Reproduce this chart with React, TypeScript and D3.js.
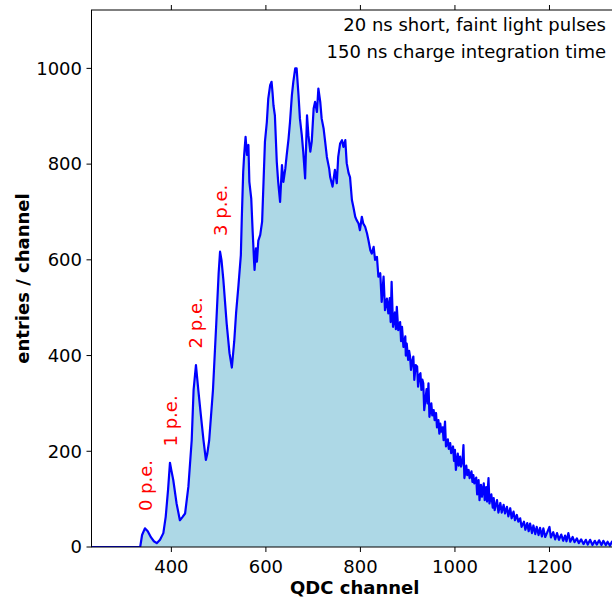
import * as d3 from 'd3';

// QDC spectrum (channel, entries); the tail follows the noise band edges
const qdcChannel = [
  231, 334, 338, 344, 350, 357, 363, 369, 376, 383, 388, 393, 397, 400, 404, 411, 418, 423, 429, 436,
  443, 447, 452, 457, 462, 468, 473, 476, 480, 488, 495, 500, 503, 506, 510, 517, 523, 528, 533, 537,
  542, 547, 549, 552, 554, 557, 560, 563, 565, 569, 572, 575, 576, 579, 581, 584, 588, 592, 595, 598,
  602, 605, 609, 612, 614, 616, 619, 623, 626, 630, 634, 637, 641, 644, 648, 651, 655, 658, 662, 665,
  669, 672, 676, 679, 683, 687, 690, 694, 697, 701, 704, 708, 711, 715, 718, 722, 725, 729, 734, 736,
  741, 746, 750, 753, 757, 761, 764, 768, 771, 775, 778, 782, 785, 789, 792, 796, 799, 803, 806, 810,
  814, 817, 821, 824, 828, 831,
  835, 838, 842, 845, 849, 852, 856, 859, 862, 864, 866, 869, 873, 875, 877, 880, 884, 886, 888, 891,
  895, 896, 898, 901, 903, 905, 907, 910, 912, 914, 917, 920, 922, 925, 927, 929, 931, 933, 935, 940,
  942, 944, 946, 950, 952, 955, 957, 960, 962, 965, 967, 969, 971, 974, 976, 979, 981, 985, 987, 990,
  992, 996, 998, 1000, 1002, 1006, 1008, 1011, 1013, 1016, 1018, 1020, 1024, 1026, 1029, 1031, 1035, 1037, 1039, 1041,
  1045, 1047, 1050, 1052, 1055, 1057, 1061, 1063, 1066, 1068, 1071, 1073, 1077, 1080, 1082, 1084, 1089, 1092, 1096, 1099,
  1103, 1106, 1110, 1113, 1117, 1120, 1124, 1127, 1131, 1134, 1138, 1141, 1146, 1149, 1153, 1156, 1159, 1163, 1166, 1170,
  1173, 1177, 1180, 1184, 1187, 1191, 1195, 1200, 1203, 1208, 1212, 1216, 1220, 1225, 1229, 1233, 1236, 1240, 1244, 1249,
  1253, 1258, 1262, 1267, 1272, 1277, 1281, 1286, 1291, 1296, 1300, 1305, 1310, 1314, 1319, 1323, 1328, 1332, 1337, 1345,
];
const entries = [
  0, 0, 25, 39, 33, 20, 12, 8, 15, 29, 63, 120, 176, 160, 140, 91, 56, 62, 70, 126,
  223, 328, 380, 328, 279, 223, 182, 195, 223, 328, 467, 572, 617, 600, 558, 467, 405, 375, 430, 490,
  547, 610, 687, 784, 819, 857, 819, 840, 763, 728, 659, 596, 579, 624, 596, 640, 652, 680, 763, 847,
  888, 937, 965, 972, 950, 923, 902, 805, 763, 721, 798, 763, 790, 819, 854, 888, 944, 972, 1000, 1000,
  944, 895, 860, 826, 770, 902, 860, 826, 847, 916, 930, 909, 958, 930, 895, 875, 850, 815, 790, 773,
  753, 788, 760, 815, 843, 850, 836, 850, 802, 781, 773, 725, 711, 690, 683, 676, 662, 690, 676, 669,
  655, 641, 620, 613, 627, 600,
  606, 565, 572, 512, 565, 495, 519, 488, 520, 470, 554, 460, 490, 455, 502, 453, 470, 430, 460, 418,
  440, 400, 425, 391, 410, 398, 370, 390, 398, 349, 380, 377, 335, 360, 363, 328, 350, 342, 286, 330,
  300, 342, 272, 300, 275, 286, 265, 280, 250, 265, 237, 258, 241, 250, 223, 262, 210, 225, 205, 217,
  196, 210, 180, 203, 161, 195, 170, 189, 168, 180, 213, 144, 170, 150, 161, 144, 158, 136, 150, 133,
  145, 110, 140, 98, 130, 105, 133, 98, 125, 95, 144, 91, 110, 82, 102, 77, 98, 72, 92, 72,
  88, 70, 84, 64, 81, 60, 74, 56, 67, 53, 60, 42, 53, 36, 50, 33, 49, 29, 45, 27,
  42, 25, 40, 22, 39, 21, 30, 42, 20, 31, 16, 29, 15, 26, 13, 24, 12, 29, 11, 21,
  10, 18, 8, 16, 6, 15, 5, 15, 4, 13, 5, 14, 4, 13, 4, 11, 3, 11, 4, 8,
];

const xTicks = [400, 600, 800, 1000, 1200];
const yTicks = [0, 200, 400, 600, 800, 1000];

const peakLabels = [
  { text: '0 p.e.', channel: 345, count: 75 },
  { text: '1 p.e.', channel: 398, count: 210 },
  { text: '2 p.e.', channel: 451, count: 415 },
  { text: '3 p.e.', channel: 504, count: 650 },
];

const infoLines = ['20 ns short, faint light pulses', '150 ns charge integration time'];

const W = 612;
const H = 597;
const margin = { top: 10, right: -6, bottom: 50, left: 91.5 };
const font = 'DejaVu Sans, sans-serif';

export default function App() {
  const x = d3.scaleLinear().domain([231, 1345]).range([margin.left, W - margin.right]);
  const y = d3.scaleLinear().domain([0, 1122]).range([H - margin.bottom, margin.top]);

  const pts = qdcChannel.map((c, i) => [c, entries[i]] as [number, number]);
  const area = d3.area<[number, number]>()
    .x(d => x(d[0]))
    .y0(y(0))
    .y1(d => y(d[1]));
  const line = d3.line<[number, number]>()
    .x(d => x(d[0]))
    .y(d => y(d[1]));

  const x0 = margin.left;
  const x1 = W - margin.right;
  const y0 = H - margin.bottom;
  const y1 = margin.top;

  return (
    <svg width={W} height={H} style={{ position: 'absolute', left: 0, top: 0 }} fontFamily={font}>
      <rect width={W} height={H} fill="white" />
      <defs>
        <clipPath id="plot">
          <rect x={x0} y={y1} width={x1 - x0} height={y0 - y1} />
        </clipPath>
      </defs>
      <g clipPath="url(#plot)">
        <path d={area(pts) ?? ''} fill="#add8e6" />
        <path d={line(pts) ?? ''} fill="none" stroke="#0000ff" strokeWidth={2.2} strokeLinejoin="round" />
      </g>

      {/* frame */}
      <rect x={x0} y={y1} width={x1 - x0} height={y0 - y1} fill="none" stroke="black" strokeWidth={1} />

      {/* x axis */}
      {xTicks.map(t => (
        <g key={t}>
          <line x1={x(t)} x2={x(t)} y1={y0} y2={y0 + 5} stroke="black" />
          <line x1={x(t)} x2={x(t)} y1={y1} y2={y1 - 5} stroke="black" />
          <text x={x(t)} y={y0 + 25.5} fontSize={18} textAnchor="middle">{t}</text>
        </g>
      ))}
      {/* y axis */}
      {yTicks.map(t => (
        <g key={t}>
          <line x1={x0 - 5} x2={x0} y1={y(t)} y2={y(t)} stroke="black" />
          <text x={x0 - 9.5} y={y(t)} dy="0.35em" fontSize={18} textAnchor="end">{t}</text>
        </g>
      ))}

      <text x={(x0 + x1) / 2} y={594} fontSize={18} fontWeight="bold" textAnchor="middle">QDC channel</text>
      <text transform={`translate(29,${(y0 + y1) / 2}) rotate(-90)`} fontSize={18} fontWeight="bold" textAnchor="middle">
        entries / channel
      </text>

      {infoLines.map((s, i) => (
        <text key={s} x={606} y={31 + i * 27} fontSize={18} textAnchor="end">{s}</text>
      ))}

      {peakLabels.map(p => (
        <text
          key={p.text}
          transform={`translate(${x(p.channel)},${y(p.count)}) rotate(-90)`}
          dy="0.35em"
          fontSize={18}
          fill="red"
        >
          {p.text}
        </text>
      ))}
    </svg>
  );
}
